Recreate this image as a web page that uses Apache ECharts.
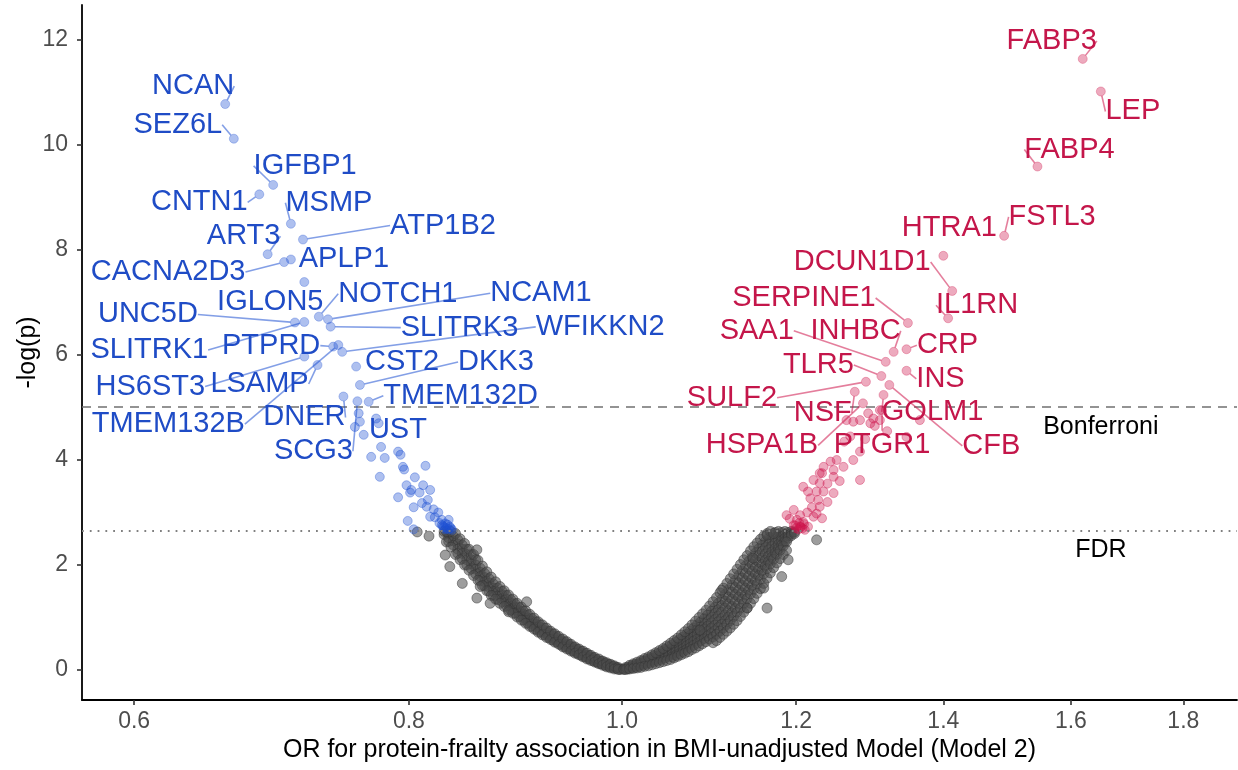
<!DOCTYPE html>
<html><head><meta charset="utf-8">
<script src="https://cdn.jsdelivr.net/npm/echarts@6/dist/echarts.min.js"></script>
<style>html,body{margin:0;padding:0;background:#fff}#c{width:1238px;height:770px}</style>
</head><body><div id="c"></div>
<script>
// ---------- data ----------
const xTickLabels = [0.6, 0.8, 1.0, 1.2, 1.4, 1.6, 1.8];
const yTickLabels = [0, 2, 4, 6, 8, 10, 12];
const xLimits = [0.5681, 1.904];
const yLimits = [-0.571, 12.667];
const bonferroniLine = 5.01;
const fdrLine = 2.65;

// labelled proteins, lower odds (blue)
const downGenes = ['NCAN','SEZ6L','IGFBP1','CNTN1','MSMP','ATP1B2','ART3','APLP1','CACNA2D3','IGLON5','NOTCH1','NCAM1','UNC5D','SLITRK1','SLITRK3','WFIKKN2','PTPRD','TMEM132B','HS6ST3','LSAMP','CST2','DKK3','DNER','SCG3','TMEM132D','UST'];
const downOR   = [0.660,0.666,0.694,0.684,0.707,0.716,0.690,0.707,0.702,0.717,0.728,0.735,0.710,0.717,0.737,0.746,0.739,0.743,0.717,0.727,0.757,0.760,0.747,0.758,0.767,0.760];
const downLogP = [10.78,10.12,9.24,9.06,8.50,8.20,7.92,7.82,7.77,7.39,6.73,6.68,6.62,6.63,6.54,6.06,6.16,6.19,5.97,5.81,5.78,5.43,5.21,5.12,5.11,4.73];

// labelled proteins, higher odds (red)
const upGenes = ['FABP3','LEP','FABP4','FSTL3','HTRA1','DCUN1D1','IL1RN','SERPINE1','CRP','INHBC','SAA1','INS','TLR5','SULF2','CFB','NSF','GOLM1','HSPA1B','PTGR1'];
const upOR   = [1.620,1.651,1.545,1.492,1.400,1.413,1.407,1.349,1.347,1.329,1.318,1.347,1.312,1.291,1.323,1.276,1.315,1.287,1.313];
const upLogP = [11.64,11.02,9.59,8.27,7.89,7.22,6.70,6.61,6.11,6.06,5.87,5.70,5.60,5.49,5.43,5.30,5.24,5.08,4.95];

// other FDR-significant proteins [OR, -log(p)]
const downOther = [[0.791,4.16],[0.793,4.10],[0.795,3.87],[0.796,3.82],[0.814,3.89],[0.805,3.67],[0.798,3.52],[0.802,3.43],[0.801,3.38],[0.809,3.38],[0.818,3.43],[0.791,3.29],[0.811,3.18],[0.816,3.24],[0.815,3.11],[0.804,3.10],[0.821,3.06],[0.818,2.92],[0.822,2.91],[0.799,2.84],[0.828,2.86],[0.831,2.79],[0.834,2.86],[0.829,2.74],[0.804,2.68],[0.776,3.68],[0.830,2.72],[0.832,2.70],[0.834,2.68],[0.828,2.76],[0.833,2.77],[0.836,2.70],[0.831,2.68],[0.835,2.73],[0.759,4.89],[0.756,4.63],[0.763,4.48],[0.773,4.79],[0.775,4.70],[0.769,4.06],[0.777,4.25],[0.780,4.04],[0.812,3.52],[0.825,3.00],[0.826,2.80],[0.837,2.67]];
const upOther = [[1.244,3.97],[1.233,3.75],[1.248,3.81],[1.222,3.62],[1.230,3.56],[1.209,3.49],[1.215,3.40],[1.226,3.40],[1.235,3.40],[1.248,3.37],[1.218,3.27],[1.228,3.24],[1.230,3.11],[1.197,3.05],[1.188,2.95],[1.205,2.95],[1.222,2.92],[1.233,2.89],[1.201,2.86],[1.209,2.82],[1.197,2.76],[1.205,2.73],[1.215,2.73],[1.211,2.67],[1.200,2.70],[1.203,2.68],[1.206,2.72],[1.208,2.70],[1.199,2.75],[1.210,2.78],[1.204,2.80],[1.294,4.89],[1.301,4.79],[1.310,4.76],[1.297,4.70],[1.303,4.65],[1.283,4.76],[1.274,4.73],[1.265,4.76],[1.310,4.95],[1.347,4.44],[1.366,4.76],[1.252,4.00],[1.261,3.87],[1.230,3.75],[1.248,3.68],[1.283,4.16],[1.274,4.00],[1.283,3.62],[1.235,3.87],[1.240,3.55],[1.256,3.60],[1.220,3.10],[1.214,3.00],[1.226,2.98],[1.192,2.88],[1.240,3.20],[1.262,4.35],[1.270,4.45],[1.320,4.55],[1.290,4.40]];

// non-significant proteins: rows of [OR, -log(p) values at that OR]
const nsRows = [
[0.830,2.64,2.58],[0.834,2.60,2.52,2.45],[0.838,2.55,2.46,2.38],[0.842,2.48,2.40,2.30,2.22],
[0.846,2.38,2.30,2.22,2.12],[0.850,2.30,2.20,2.10,2.00],[0.854,2.20,2.10,2.02,1.93],[0.858,2.10,2.00,1.92,1.83],
[0.862,1.94,1.86,1.78,1.70],[0.866,1.84,1.76,1.68,1.60],[0.870,1.74,1.66,1.58,1.50],[0.874,1.64,1.56,1.49,1.42],
[0.878,1.56,1.48,1.41,1.34],[0.882,1.50,1.43,1.36,1.30],[0.886,1.42,1.35,1.29,1.22],[0.890,1.34,1.28,1.21,1.15],
[0.894,1.26,1.20,1.14,1.08],[0.898,1.19,1.13,1.07,1.02],[0.902,1.12,1.06,1.00,0.95],[0.906,1.05,0.99,0.94,0.89],
[0.910,0.98,0.93,0.88,0.83],[0.914,0.92,0.87,0.82,0.77],[0.918,0.86,0.81,0.76,0.72],[0.922,0.80,0.75,0.71,0.67],
[0.926,0.74,0.70,0.66,0.62],[0.930,0.69,0.65,0.61,0.57],[0.934,0.64,0.60,0.56,0.53],[0.938,0.58,0.55,0.52,0.48],
[0.942,0.54,0.50,0.47,0.44],[0.946,0.49,0.46,0.43,0.40],[0.950,0.44,0.41,0.38,0.36],[0.954,0.40,0.37,0.34,0.32],
[0.958,0.36,0.33,0.30,0.28],[0.962,0.32,0.29,0.27,0.25],[0.966,0.28,0.25,0.23,0.21],[0.970,0.24,0.22,0.20,0.18],
[0.974,0.20,0.18,0.16,0.15],[0.978,0.17,0.15,0.13,0.12],[0.982,0.14,0.12,0.10,0.09],[0.986,0.11,0.09,0.08,0.07],
[0.990,0.08,0.06,0.05],[0.994,0.05,0.04,0.03],[0.998,0.02,0.01],
[0.832,2.64,2.44],[0.836,2.64,2.34],[0.840,2.60,2.20],[0.844,2.50,2.10],[0.848,2.41,2.00],[0.852,2.30,1.90],
[0.856,2.20,1.80],[0.860,2.09,1.71],[0.864,1.98,1.61],[0.868,1.87,1.51],[0.872,1.77,1.42],[0.876,1.68,1.35],
[0.880,1.59,1.27],[0.884,1.51,1.21],[0.888,1.43,1.14],[0.892,1.35,1.08],[0.896,1.27,1.01],[0.900,1.20,0.95],
[0.904,1.13,0.89],[0.908,1.06,0.83],[0.912,0.99,0.78],[0.916,0.92,0.72],[0.920,0.86,0.67],[0.924,0.80,0.62],
[0.928,0.74,0.58],[0.932,0.69,0.53],[0.936,0.64,0.49],[0.940,0.59,0.44],[0.944,0.54,0.40],[0.948,0.49,0.36],
[0.952,0.44,0.32],[0.956,0.40,0.29],[0.960,0.36,0.25],[0.964,0.32,0.21],[0.968,0.28,0.18],[0.972,0.24,0.15],
[0.976,0.21,0.12],[0.980,0.17,0.09],[0.984,0.14,0.06],[0.988,0.11,0.04],[0.992,0.08,0.02],[0.996,0.05,0.01],
[1.002,0.02,0.01],[1.006,0.05,0.03,0.02],[1.010,0.08,0.06,0.04],[1.014,0.11,0.09,0.07,0.05],
[1.018,0.13,0.11,0.09,0.07],[1.022,0.17,0.14,0.12,0.09],[1.026,0.20,0.17,0.14,0.11],[1.030,0.23,0.20,0.17,0.14],
[1.034,0.27,0.23,0.19,0.16],[1.038,0.31,0.26,0.22,0.18],[1.042,0.35,0.30,0.25,0.20],[1.046,0.39,0.34,0.29,0.23],
[1.050,0.44,0.38,0.32,0.26],[1.054,0.48,0.42,0.36,0.30,0.25],[1.058,0.53,0.46,0.40,0.34,0.28],[1.062,0.58,0.51,0.44,0.37,0.31],
[1.066,0.63,0.56,0.49,0.41,0.35],[1.070,0.68,0.61,0.53,0.46,0.39],[1.074,0.74,0.66,0.58,0.50,0.43],[1.078,0.80,0.71,0.63,0.55,0.47],
[1.082,0.86,0.77,0.68,0.59,0.51],[1.086,0.92,0.83,0.73,0.64,0.56],[1.090,0.98,0.88,0.78,0.69,0.60],[1.094,1.05,0.94,0.84,0.74,0.65],
[1.098,1.12,1.01,0.90,0.80,0.70],[1.102,1.19,1.08,0.96,0.85,0.75],[1.106,1.27,1.15,1.03,0.92,0.81],[1.110,1.35,1.23,1.10,0.98,0.87],
[1.114,1.44,1.31,1.18,1.05,0.94],[1.118,1.53,1.39,1.26,1.13,1.01],[1.122,1.62,1.48,1.35,1.21,1.09],[1.126,1.71,1.57,1.44,1.30,1.17],
[1.130,1.80,1.66,1.52,1.39,1.26],[1.134,1.89,1.75,1.61,1.47,1.35],[1.138,1.98,1.84,1.70,1.56,1.43],[1.142,2.07,1.93,1.79,1.65,1.52],
[1.146,2.15,2.01,1.88,1.74,1.61],[1.150,2.23,2.10,1.96,1.83,1.70],[1.154,2.31,2.18,2.05,1.92,1.80],[1.158,2.38,2.26,2.13,2.01,1.89],
[1.162,2.45,2.33,2.21,2.09,1.98],[1.166,2.51,2.40,2.29,2.17,2.07],[1.170,2.57,2.47,2.36,2.25,2.15],[1.174,2.62,2.52,2.42,2.32,2.23],
[1.178,2.64,2.57,2.48,2.39,2.31],[1.182,2.62,2.54,2.46,2.38],[1.186,2.64,2.58,2.51,2.45],[1.190,2.62,2.56,2.51],
[1.194,2.64,2.60,2.56],[1.198,2.63,2.60],
[1.004,0.05,0.01],[1.008,0.09,0.02],[1.012,0.12,0.03],[1.016,0.15,0.04],[1.020,0.18,0.05],[1.024,0.22,0.07],
[1.028,0.25,0.08],[1.032,0.29,0.10],[1.036,0.33,0.12],[1.040,0.37,0.14],[1.044,0.41,0.16],[1.048,0.46,0.18],
[1.052,0.51,0.20],[1.056,0.56,0.23],[1.060,0.61,0.26],[1.064,0.67,0.29],[1.068,0.73,0.32],[1.072,0.79,0.35],
[1.076,0.86,0.39],[1.080,0.93,0.42],[1.084,1.00,0.46],[1.088,1.07,0.50],[1.092,1.14,0.54],[1.096,1.22,0.59],
[1.100,1.30,0.63,0.52],[1.104,1.38,0.68,0.56],[1.108,1.47,0.74,0.62],[1.112,1.56,0.80,0.68],[1.116,1.65,0.87,0.74],
[1.120,1.74,0.94,0.80],[1.124,1.83,1.02,0.87],[1.128,1.92,1.10,0.94],[1.132,2.01,1.18,1.02],[1.136,2.10,1.27,1.10],
[1.140,2.18,1.36,1.18],[1.144,2.27,1.45,1.27],[1.148,2.35,1.54,1.36],[1.152,2.42,1.64,1.46],[1.156,2.49,1.73,1.55],
[1.160,2.55,1.83,1.65],[1.164,2.60,1.93,1.75],[1.168,2.64,2.02,1.85],[1.172,2.11,1.95],[1.176,2.20,2.04],
[1.180,2.28,2.12],[1.184,2.36,2.20],[1.188,2.44,2.28]
];
const nsOutliers = [[0.807,2.63],[0.817,2.55],[0.831,2.19],[0.835,1.97],[0.846,1.65],[0.859,2.29],[0.859,1.37],[0.862,1.59],[0.871,1.27],[0.888,1.11],[0.905,1.30],[1.226,2.48],[1.164,2.57],[1.172,2.60],[1.190,2.10],[1.182,1.78],[1.160,1.56],[1.140,1.18],[1.164,1.18],[1.110,1.52],[1.147,2.13],[1.085,0.76]];

const thresholdText = [['Bonferroni', 1.651, 4.62], ['FDR', 1.651, 2.29]];

// ---------- label layout (pixel offsets of label centre from its point) ----------
const labelOffset = {
  NCAN:[-32,-18], SEZ6L:[-56,-14], IGFBP1:[32,-19], CNTN1:[-60,8], MSMP:[38,-21], ATP1B2:[140,-14],
  ART3:[-24,-18], APLP1:[53,0], CACNA2D3:[-116,10], IGLON5:[-34,20], NOTCH1:[79,-23], NCAM1:[213,-26],
  UNC5D:[-147,-8], SLITRK1:[-155,28], SLITRK3:[129,1], WFIKKN2:[258,-25], PTPRD:[-62,-1], TMEM132B:[-170,79],
  HS6ST3:[-154,30], LSAMP:[-58,19], CST2:[46,-5], DKK3:[136,-23], DNER:[-39,21], SCG3:[-44,50],
  TMEM132D:[92,-6], UST:[38,8],
  FABP3:[-31,-18], LEP:[32,20], FABP4:[32,-17], FSTL3:[48,-19], HTRA1:[6,-28], DCUN1D1:[-90,-29],
  IL1RN:[29,-13], SERPINE1:[-104,-25], CRP:[41,-4], INHBC:[-38,-21], SAA1:[-129,-31], INS:[34,8],
  TLR5:[-63,-11], SULF2:[-134,16], CFB:[102,61], NSF:[-32,21], GOLM1:[49,17], HSPA1B:[-101,42], PTGR1:[0,35]
};
const noSegment = ['APLP1','IGLON5','CST2','UST','HTRA1'];

// ---------- build ----------
const FONT = "'Liberation Sans', Arial, Helvetica, sans-serif";
const BLUE = '#1f4cc6', RED = '#c4164a';
const toXY = d => [Math.log(d[0]), d[1]];
const nsData = [];
nsRows.forEach(r => { for (let k = 1; k < r.length; k++) nsData.push([Math.log(r[0]), r[k]]); });
nsOutliers.forEach(d => nsData.push(toXY(d)));

function labelled(names, ors, ps) {
  return names.map((n, i) => ({ name: n, value: [Math.log(ors[i]), ps[i]], labelLine: { show: noSegment.indexOf(n) < 0 } }));
}
function labelSeries(names, ors, ps, color, fill, line) {
  return {
    type: 'scatter', silent: true, z: 5,
    data: labelled(names, ors, ps),
    symbolSize: 9,
    itemStyle: { color: fill, borderColor: fill, borderWidth: 0.8, opacity: 1 },
    label: { show: true, position: 'inside', formatter: '{b}', color: color, fontSize: 29, fontFamily: FONT,
      textBorderWidth: 0, textBorderColor: 'transparent', textShadowBlur: 0, opacity: 1 },
    labelLine: { show: true, lineStyle: { color: line, width: 1.6, opacity: 1 } },
    labelLayout: p => { const o = labelOffset[names[p.dataIndex]]; return { dx: o[0], dy: o[1] }; },
    emphasis: { disabled: true }
  };
}

const chart = echarts.init(document.getElementById('c'), null, { renderer: 'canvas' });
chart.setOption({
  animation: false,
  backgroundColor: '#ffffff',
  grid: { left: 82, right: 1, top: 5, bottom: 70, containLabel: false, outerBoundsMode: 'none' },
  xAxis: {
    type: 'value', min: Math.log(xLimits[0]), max: Math.log(xLimits[1]),
    name: 'OR for protein-frailty association in BMI-unadjusted Model (Model 2)',
    nameLocation: 'middle', nameGap: 38,
    nameTextStyle: { color: '#000', fontSize: 25, fontFamily: FONT },
    axisLine: { onZero: false, lineStyle: { color: '#000', width: 1.8 } },
    axisTick: { show: true, length: 5, lineStyle: { color: '#333', width: 1.6 }, customValues: xTickLabels.map(Math.log) },
    axisLabel: { color: '#4d4d4d', fontSize: 23, fontFamily: FONT, margin: 10,
      customValues: xTickLabels.map(Math.log), formatter: v => Math.exp(v).toFixed(1) },
    splitLine: { show: false }
  },
  yAxis: {
    type: 'value', min: yLimits[0], max: yLimits[1],
    name: '-log(p)', nameLocation: 'middle', nameGap: 41, nameMoveOverlap: false,
    nameTextStyle: { color: '#000', fontSize: 25, fontFamily: FONT },
    axisLine: { show: true, onZero: false, lineStyle: { color: '#000', width: 1.8 } },
    axisTick: { show: true, length: 5, lineStyle: { color: '#333', width: 1.6 }, customValues: yTickLabels },
    axisLabel: { color: '#4d4d4d', fontSize: 23, fontFamily: FONT, margin: 14,
      customValues: yTickLabels, formatter: v => String(Math.round(v)) },
    splitLine: { show: false }
  },
  series: [
    {
      type: 'scatter', silent: true, z: 2, data: nsData, symbolSize: 10,
      itemStyle: { color: 'rgba(77,77,77,0.55)', borderColor: 'rgba(50,50,50,0.6)', borderWidth: 0.8, opacity: 1 },
      markLine: {
        silent: true, symbol: 'none', label: { show: false },
        data: [
          { yAxis: bonferroniLine, lineStyle: { color: '#707070', width: 1.5, type: [9, 7], opacity: 1 } },
          { yAxis: fdrLine, lineStyle: { color: '#808080', width: 1.8, type: [1.8, 6], opacity: 1 } }
        ]
      },
      emphasis: { disabled: true }
    },
    { type: 'scatter', silent: true, z: 3, data: downOther.map(toXY), symbolSize: 9,
      itemStyle: { color: 'rgba(30,80,210,0.36)', borderColor: 'rgba(30,80,210,0.45)', borderWidth: 0.8, opacity: 1 }, emphasis: { disabled: true } },
    { type: 'scatter', silent: true, z: 3, data: upOther.map(toXY), symbolSize: 9,
      itemStyle: { color: 'rgba(205,20,75,0.36)', borderColor: 'rgba(205,20,75,0.45)', borderWidth: 0.8, opacity: 1 }, emphasis: { disabled: true } },
    labelSeries(downGenes, downOR, downLogP, BLUE, 'rgba(30,80,210,0.36)', 'rgba(30,80,210,0.55)'),
    labelSeries(upGenes, upOR, upLogP, RED, 'rgba(205,20,75,0.36)', 'rgba(205,20,75,0.55)'),
    {
      type: 'scatter', silent: true, z: 6, symbolSize: 1,
      itemStyle: { color: 'rgba(0,0,0,0)', opacity: 1 },
      data: thresholdText.map(t => ({ name: t[0], value: [Math.log(t[1]), t[2]] })),
      label: { show: true, position: 'inside', formatter: '{b}', color: '#000', fontSize: 25, fontFamily: FONT,
        textBorderWidth: 0, textBorderColor: 'transparent' },
      emphasis: { disabled: true }
    }
  ]
});
</script>
</body></html>
